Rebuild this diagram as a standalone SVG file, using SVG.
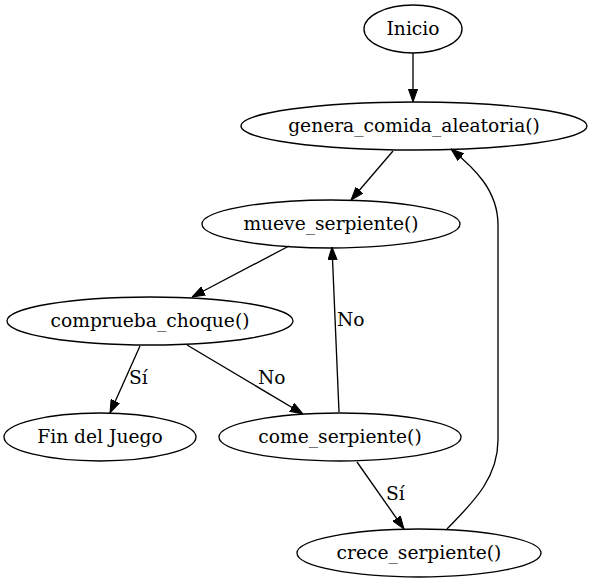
<svg xmlns="http://www.w3.org/2000/svg" width="596" height="583" viewBox="0 0 596 583">
<defs>
<style>
.n ellipse{fill:none;stroke:#000;stroke-width:1.33}
text{font-family:"DejaVu Serif",serif;font-size:18.67px;fill:#000}
.n text{text-anchor:middle}
.e path{fill:none;stroke:#000;stroke-width:1.33;marker-end:url(#ah)}
</style>
<marker id="ah" viewBox="0 0 13 10" refX="13" refY="5" markerWidth="13" markerHeight="10" markerUnits="userSpaceOnUse" orient="auto">
<path d="M0,0.4 L13,5 L0,9.6 z" fill="#000" stroke="#000" stroke-width="1"/>
</marker>
</defs>
<rect width="596" height="583" fill="#fff"/>
<g id="connectors" class="e">
<path d="M413,53 L413,102"/>
<path d="M393,151 L351,200"/>
<path d="M289,246 L192,297"/>
<path d="M140,346 L110,413"/>
<path d="M187,345 L303,414"/>
<path d="M339,412 L332,247"/>
<path d="M357,462 L404,529"/>
<path d="M447,529 C470,505 498,480 498,440 L498,225 C498,190 474,168 451,149"/>
<text x="129" y="384">Sí</text>
<text x="258" y="384">No</text>
<text x="337" y="326">No</text>
<text x="386" y="500">Sí</text>
</g>
<g id="inicio" class="n"><ellipse cx="413" cy="29" rx="49" ry="24"/><text x="413" y="35">Inicio</text></g>
<g id="genera" class="n"><ellipse cx="414" cy="126" rx="173" ry="24"/><text x="414" y="132">genera_comida_aleatoria()</text></g>
<g id="mueve" class="n"><ellipse cx="331" cy="224" rx="129" ry="24"/><text x="331" y="230">mueve_serpiente()</text></g>
<g id="comprueba" class="n"><ellipse cx="150" cy="321" rx="143" ry="24"/><text x="150" y="327">comprueba_choque()</text></g>
<g id="fin" class="n"><ellipse cx="100" cy="437" rx="96" ry="24"/><text x="100" y="443">Fin del Juego</text></g>
<g id="come" class="n"><ellipse cx="340" cy="437" rx="121" ry="24"/><text x="340" y="443">come_serpiente()</text></g>
<g id="crece" class="n"><ellipse cx="419" cy="553" rx="122" ry="24"/><text x="419" y="559">crece_serpiente()</text></g>
</svg>
